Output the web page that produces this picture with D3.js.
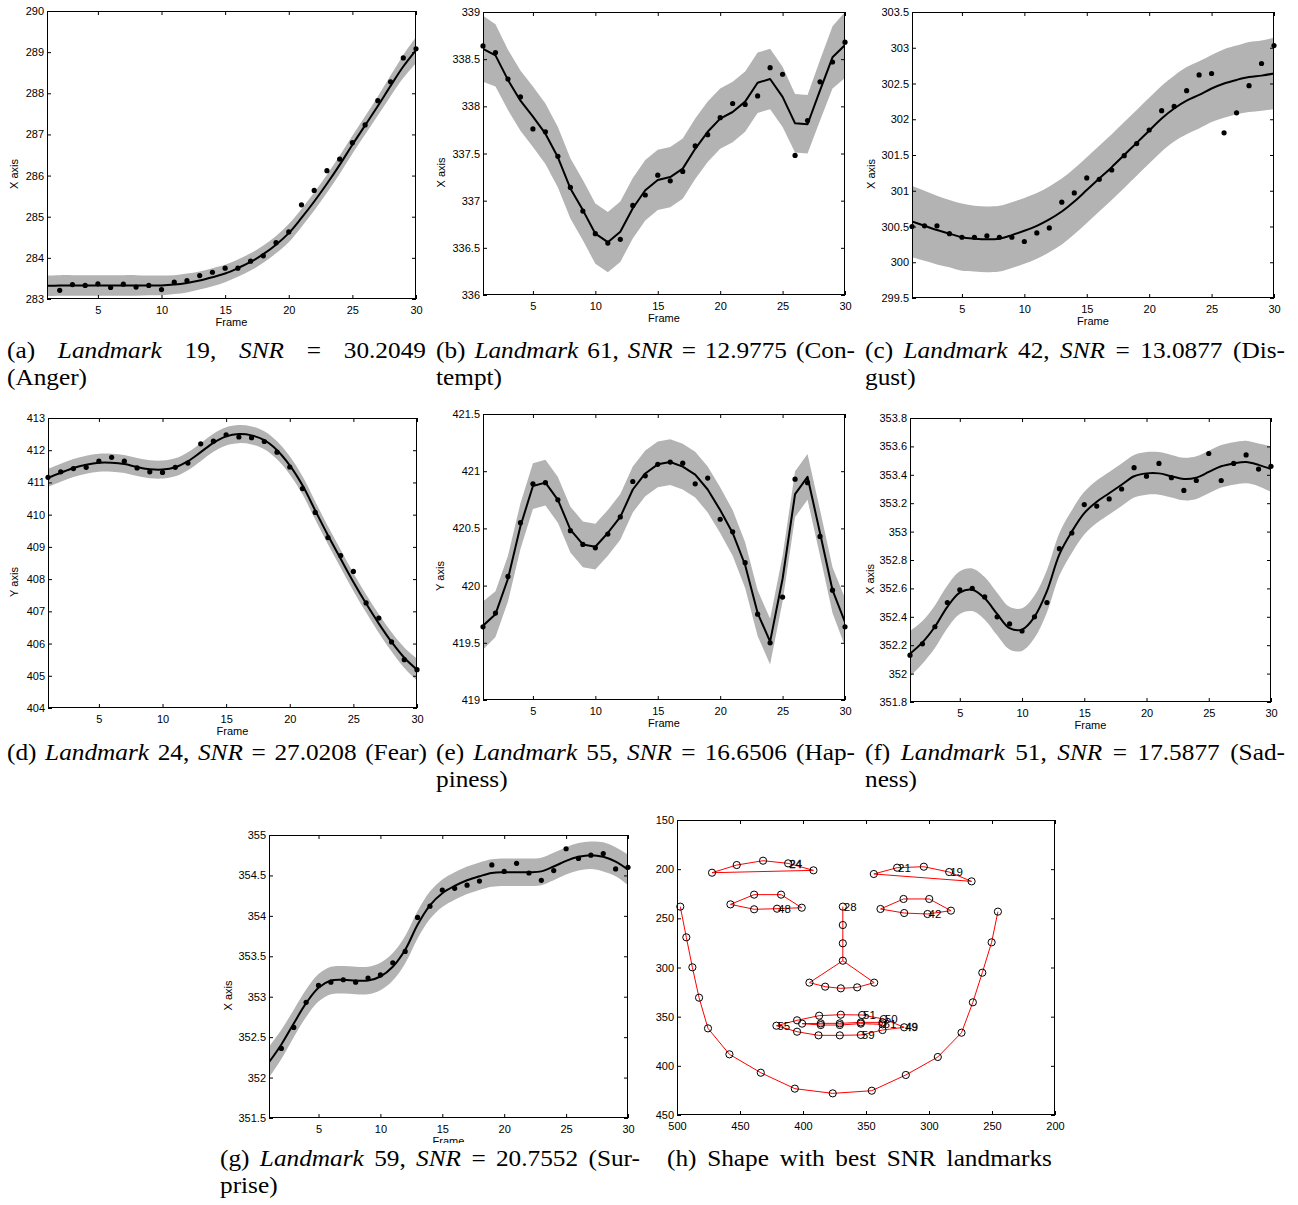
<!DOCTYPE html>
<html><head><meta charset="utf-8">
<script src="https://cdn.jsdelivr.net/npm/d3@7"></script>
<style>body{margin:0;background:#fff}</style>
</head><body>
<svg id="fig" width="1298" height="1205"></svg>
<script>
// ---------------- DATA ----------------
const frames = [1,2,3,4,5,6,7,8,9,10,11,12,13,14,15,16,17,18,19,20,21,22,23,24,25,26,27,28,29,30];
const xTicks = [5,10,15,20,25,30];

// (a) Landmark 19, Anger
const meanA = [283.32,283.33,283.33,283.33,283.33,283.33,283.33,283.33,283.33,283.33,283.35,283.39,283.45,283.53,283.62,283.75,283.90,284.09,284.32,284.60,284.97,285.37,285.80,286.26,286.75,287.22,287.69,288.18,288.65,289.05];
const sdA   = [0.25,0.25,0.25,0.25,0.25,0.25,0.25,0.25,0.24,0.24,0.23,0.23,0.22,0.22,0.21,0.21,0.21,0.21,0.21,0.22,0.22,0.22,0.22,0.22,0.22,0.22,0.23,0.25,0.28,0.32];
const obsA  = [null,283.21,283.35,283.33,283.37,283.28,283.36,283.29,283.33,283.23,283.41,283.45,283.57,283.65,283.75,283.75,283.92,284.05,284.37,284.63,285.29,285.64,286.12,286.40,286.80,287.23,287.82,288.28,288.86,289.08];
const yTicksA = [283,284,285,286,287,288,289,290];

// (b) Landmark 61, Contempt
const meanB = [338.61,338.54,338.28,338.06,337.89,337.71,337.46,337.13,336.90,336.65,336.56,336.67,336.92,337.11,337.22,337.25,337.34,337.55,337.73,337.87,337.94,338.05,338.25,338.29,338.10,337.82,337.81,338.17,338.52,338.65];
const sdB   = [0.35,0.33,0.32,0.32,0.32,0.32,0.32,0.32,0.32,0.32,0.32,0.32,0.32,0.32,0.32,0.32,0.32,0.32,0.32,0.32,0.32,0.32,0.32,0.32,0.32,0.31,0.31,0.32,0.33,0.35];
const obsB  = [338.64,338.57,338.29,338.10,337.76,337.73,337.47,337.14,336.89,336.65,336.55,336.59,336.95,337.06,337.27,337.21,337.31,337.58,337.70,337.88,338.03,338.02,338.11,338.41,338.34,337.48,337.85,338.26,338.47,338.68];
const yTicksB = [336,336.5,337,337.5,338,338.5,339];

// (c) Landmark 42, Disgust
const meanC = [300.57,300.51,300.45,300.40,300.35,300.33,300.32,300.33,300.38,300.44,300.51,300.60,300.71,300.85,301.01,301.17,301.33,301.50,301.67,301.84,302.01,302.15,302.26,302.34,302.43,302.50,302.55,302.59,302.61,302.64];
const sdC   = [0.50,0.49,0.48,0.47,0.47,0.46,0.46,0.46,0.46,0.46,0.46,0.46,0.46,0.46,0.46,0.46,0.46,0.46,0.46,0.46,0.46,0.46,0.47,0.47,0.47,0.48,0.48,0.49,0.49,0.50];
const obsC  = [300.50,300.51,300.51,300.40,300.35,300.35,300.37,300.35,300.35,300.29,300.41,300.48,300.84,300.97,301.18,301.16,301.29,301.49,301.66,301.85,302.12,302.18,302.40,302.62,302.64,301.81,302.09,302.47,302.78,303.03];
const yTicksC = [299.5,300,300.5,301,301.5,302,302.5,303,303.5];

// (d) Landmark 24, Fear
const meanD = [411.14,411.30,411.45,411.55,411.61,411.61,411.57,411.48,411.41,411.40,411.47,411.66,411.94,412.23,412.43,412.50,412.46,412.31,412.00,411.53,410.91,410.13,409.36,408.63,407.91,407.24,406.62,406.05,405.56,405.19];
const sdD   = [0.28,0.28,0.28,0.28,0.28,0.28,0.28,0.28,0.28,0.28,0.28,0.28,0.28,0.28,0.28,0.28,0.28,0.28,0.28,0.28,0.28,0.28,0.28,0.28,0.28,0.28,0.29,0.30,0.32,0.34];
const obsD  = [411.16,411.33,411.43,411.47,411.66,411.78,411.66,411.45,411.33,411.31,411.47,411.60,412.20,412.28,412.48,412.41,412.39,412.27,411.94,411.48,410.81,410.07,409.29,408.73,408.24,407.26,406.79,406.05,405.50,405.19];
const yTicksD = [404,405,406,407,408,409,410,411,412,413];

// (e) Landmark 55, Happiness
const meanE = [419.65,419.75,420.06,420.52,420.87,420.90,420.75,420.49,420.36,420.34,420.46,420.60,420.84,420.98,421.06,421.08,421.04,420.97,420.84,420.66,420.46,420.18,419.76,419.51,420.06,420.80,420.95,420.46,419.96,419.68];
const sdE   = [0.21,0.20,0.20,0.20,0.20,0.20,0.20,0.20,0.20,0.20,0.20,0.20,0.20,0.20,0.20,0.20,0.20,0.20,0.20,0.20,0.20,0.20,0.20,0.20,0.20,0.20,0.20,0.20,0.20,0.21];
const obsE  = [419.64,419.76,420.08,420.55,420.89,420.90,420.75,420.48,420.36,420.33,420.45,420.60,420.91,420.96,421.06,421.08,421.07,420.89,420.94,420.58,420.47,420.20,419.75,419.50,419.90,420.93,420.90,420.43,419.96,419.64];
const yTicksE = [419,419.5,420,420.5,421,421.5];

// (f) Landmark 51, Sadness
const meanF = [352.14,352.22,352.33,352.47,352.57,352.59,352.53,352.42,352.32,352.31,352.40,352.58,352.84,353.00,353.13,353.21,353.27,353.33,353.39,353.41,353.41,353.39,353.37,353.38,353.42,353.46,353.48,353.49,353.47,353.44];
const sdF   = [0.16,0.15,0.15,0.15,0.15,0.15,0.15,0.15,0.15,0.15,0.15,0.15,0.15,0.15,0.15,0.15,0.15,0.15,0.15,0.15,0.15,0.15,0.15,0.15,0.15,0.15,0.15,0.15,0.15,0.16];
const obsF  = [352.13,352.21,352.33,352.50,352.59,352.60,352.54,352.40,352.35,352.30,352.40,352.50,352.88,352.99,353.19,353.18,353.23,353.30,353.45,353.39,353.48,353.38,353.29,353.36,353.55,353.36,353.48,353.54,353.44,353.46];
const yTicksF = [351.8,352,352.2,352.4,352.6,352.8,353,353.2,353.4,353.6,353.8];

// (g) Landmark 59, Surprise
const meanG = [352.19,352.41,352.67,352.92,353.11,353.20,353.21,353.20,353.20,353.25,353.37,353.58,353.89,354.13,354.28,354.37,354.44,354.49,354.53,354.54,354.54,354.54,354.55,354.61,354.68,354.73,354.75,354.73,354.67,354.57];
const sdG   = [0.19,0.18,0.17,0.17,0.17,0.17,0.17,0.17,0.17,0.17,0.17,0.17,0.17,0.17,0.17,0.17,0.17,0.17,0.17,0.17,0.17,0.17,0.17,0.17,0.17,0.17,0.17,0.18,0.18,0.19];
const obsG  = [null,352.36,352.62,352.93,353.14,353.18,353.21,353.18,353.23,353.27,353.42,353.56,353.98,354.12,354.32,354.34,354.38,354.43,354.63,354.55,354.65,354.53,354.44,354.56,354.83,354.71,354.75,354.77,354.58,354.60];
const yTicksG = [351.5,352,352.5,353,353.5,354,354.5,355];

// (h) Face shape (image x, image y)
const faceX = [497.4,492.6,487.8,482.5,475.4,458.4,433.5,406.5,376.4,345.4,318.4,293.0,274.2,265.2,257.7,250.3,245.3,
  472.2,452.6,431.7,411.8,391.7, 343.8,325.3,304.1,284.0,266.2,
  368.4,368.4,368.4,368.4, 394.9,382.4,370.0,357.0,343.5,
  457.6,438.8,417.4,401.0,420.6,438.8, 338.5,320.2,299.8,282.6,301.2,319.7,
  421.1,404.7,387.2,370.0,353.1,335.9,319.7,336.9,354.1,370.8,387.7,404.7,
  400.7,385.9,370.8,354.1,336.9, 336.9,354.1,370.8,385.9];
const faceY = [238.1,269.3,299.8,330.7,361.9,388.3,407.0,423.2,428.0,425.3,409.3,391.0,366.3,335.4,305.3,274.4,243.2,
  203.6,195.8,191.4,194.1,201.2, 204.9,198.5,197.5,202.9,212.4,
  238.1,256.8,275.4,293.1, 315.4,319.5,321.2,320.2,315.4,
  235.8,225.9,225.9,239.2,240.2,240.8, 240.5,230.3,230.3,242.2,245.6,244.6,
  359.2,353.7,349.0,348.0,348.3,352.4,360.8,363.6,368.6,369.0,369.0,365.3,
  357.1,356.8,356.8,355.8,355.8, 357.8,357.1,358.5,358.5];
const faceEdges = [
  [0,1,2,3,4,5,6,7,8,9,10,11,12,13,14,15,16],
  [17,18,19,20,21,17],
  [22,23,24,25,26,22],
  [27,28,29,30],[30,31],[30,35],[31,32,33,34,35],
  [36,37,38,39,40,41,36],
  [42,43,44,45,46,47,42],
  [48,49,50,51,52,53,54,55,56,57,58,59,48],
  [60,61,62,63,64,65,66,67,68,60]
];
const faceLabelIdx  = [20,23,25,27,40,46,48,52,53,65,54,56];
const faceLabelText = ["24","21","19","28","48","42","55","51","50","61","49","59"];
const xTicksH = [500,450,400,350,300,250,200];
const yTicksH = [150,200,250,300,350,400,450];

// Captions
const capTags = ["(a)","(b)","(c)","(d)","(e)","(f)","(g)"];
const capLandmarks = ["19","61","42","24","55","51","59"];
const capSNR = ["30.2049","12.9775","13.0877","27.0208","16.6506","17.5877","20.7552"];
const capTail1 = ["","(Con-","(Dis-","(Fear)","(Hap-","(Sad-","(Sur-"];
const capLine2 = ["(Anger)","tempt)","gust)","","piness)","ness)","prise)"];
const capH = ["(h)","Shape","with","best","SNR","landmarks"];

// ---------------- LAYOUT ----------------
const panels = [
  {key:"a", l:47,  r:416,  t:11,  b:299,  yd:[283,290],     yt:yTicksA, mean:meanA, sd:sdA, obs:obsA, lab:"X axis", ylx:14,  linear:false},
  {key:"b", l:483, r:845,  t:12,  b:295,  yd:[336,339],     yt:yTicksB, mean:meanB, sd:sdB, obs:obsB, lab:"X axis", ylx:441, linear:true},
  {key:"c", l:912, r:1274, t:12,  b:298,  yd:[299.5,303.5], yt:yTicksC, mean:meanC, sd:sdC, obs:obsC, lab:"X axis", ylx:871, linear:false},
  {key:"d", l:48,  r:417,  t:418, b:708,  yd:[404,413],     yt:yTicksD, mean:meanD, sd:sdD, obs:obsD, lab:"Y axis", ylx:14,  linear:false},
  {key:"e", l:483, r:845,  t:414, b:700,  yd:[419,421.5],   yt:yTicksE, mean:meanE, sd:sdE, obs:obsE, lab:"Y axis", ylx:440, linear:true},
  {key:"f", l:910, r:1271, t:418, b:702,  yd:[351.8,353.8], yt:yTicksF, mean:meanF, sd:sdF, obs:obsF, lab:"X axis", ylx:870, linear:false},
  {key:"g", l:269, r:628,  t:835, b:1118, yd:[351.5,355],   yt:yTicksG, mean:meanG, sd:sdG, obs:obsG, lab:"X axis", ylx:228, linear:false, clipLabel:1143}
];
const capPos = [
  {x0:7,   x1:426,  y:358},
  {x0:436, x1:855,  y:358},
  {x0:865, x1:1285, y:358},
  {x0:7,   x1:427,  y:760},
  {x0:436, x1:855,  y:760},
  {x0:865, x1:1285, y:760},
  {x0:220, x1:640,  y:1166}
];
const LINE_GAP = 27;
const CAP_SIZE = 23, CAP_SX = 1.1;
const SANS = "'Liberation Sans', Arial, Helvetica, sans-serif";
const SERIF = "'Liberation Serif', 'Times New Roman', serif";

const svg = d3.select("#fig");
svg.append("rect").attr("width",1298).attr("height",1205).attr("fill","#fff");

function styleAxis(g){
  g.select(".domain").remove();
  g.attr("font-family", SANS).attr("font-size", 11);
  g.selectAll("line").attr("stroke","#000").attr("stroke-width",1);
  g.selectAll("text").attr("fill","#000");
}
function drawAxes(x, y, p, xt, yt, xpad, ypad){
  const fmt = d => String(d);
  styleAxis(svg.append("g").attr("transform",`translate(0,${p.b})`)
    .call(d3.axisBottom(x).tickValues(xt).tickSizeInner(-4).tickSizeOuter(0).tickPadding(xpad).tickFormat(fmt)));
  styleAxis(svg.append("g").attr("transform",`translate(0,${p.t})`)
    .call(d3.axisTop(x).tickValues(xt).tickSizeInner(-4).tickSizeOuter(0).tickFormat("")));
  styleAxis(svg.append("g").attr("transform",`translate(${p.l},0)`)
    .call(d3.axisLeft(y).tickValues(yt).tickSizeInner(-4).tickSizeOuter(0).tickPadding(ypad).tickFormat(fmt)));
  styleAxis(svg.append("g").attr("transform",`translate(${p.r},0)`)
    .call(d3.axisRight(y).tickValues(yt).tickSizeInner(-4).tickSizeOuter(0).tickFormat("")));
  svg.append("rect").attr("x",p.l+0.5).attr("y",p.t+0.5).attr("width",p.r-p.l-1).attr("height",p.b-p.t-1)
    .attr("fill","none").attr("stroke","#000").attr("stroke-width",1);
}

panels.forEach(p => {
  const x = d3.scaleLinear().domain([1,30]).range([p.l, p.r]);
  const y = d3.scaleLinear().domain(p.yd).range([p.b, p.t]);
  const cid = "clip_" + p.key;
  svg.append("clipPath").attr("id", cid).append("rect")
    .attr("x",p.l).attr("y",p.t).attr("width",p.r-p.l).attr("height",p.b-p.t);
  const g = svg.append("g").attr("clip-path", `url(#${cid})`);
  const curve = p.linear ? d3.curveLinear : d3.curveCatmullRom.alpha(0.5);
  const idx = d3.range(frames.length);
  g.append("path").datum(idx)
    .attr("d", d3.area().x(i => x(frames[i])).y0(i => y(p.mean[i]-p.sd[i])).y1(i => y(p.mean[i]+p.sd[i])).curve(curve))
    .attr("fill","#b3b3b3");
  g.append("path").datum(idx)
    .attr("d", d3.line().x(i => x(frames[i])).y(i => y(p.mean[i])).curve(curve))
    .attr("fill","none").attr("stroke","#000").attr("stroke-width",2).attr("stroke-linejoin","round");
  svg.append("g").selectAll("circle").data(idx.filter(i => p.obs[i] !== null)).join("circle")
    .attr("cx", i => x(frames[i])).attr("cy", i => y(p.obs[i])).attr("r", 2.6).attr("fill","#000");
  drawAxes(x, y, p, xTicks, p.yt, 7, 3);
  const fl = svg.append("text").attr("x",(p.l+p.r)/2).attr("y",p.b+27).attr("text-anchor","middle")
    .attr("font-family",SANS).attr("font-size",11).text("Frame");
  if (p.clipLabel) {
    svg.append("clipPath").attr("id","cl_"+p.key).append("rect").attr("x",0).attr("y",0).attr("width",1298).attr("height",p.clipLabel);
    fl.attr("clip-path",`url(#cl_${p.key})`);
  }
  svg.append("text").attr("transform",`translate(${p.ylx},${(p.t+p.b)/2+19}) rotate(-90)`)
    .attr("text-anchor","middle").attr("dy","0.35em")
    .attr("font-family",SANS).attr("font-size",11).text(p.lab);
});

// ---------------- FACE PANEL ----------------
(function(){
  const p = {l:677, r:1055, t:820, b:1115};
  const x = d3.scaleLinear().domain([500,200]).range([p.l,p.r]);
  const y = d3.scaleLinear().domain([150,450]).range([p.t,p.b]);
  const line = d3.line().x(i => x(faceX[i])).y(i => y(faceY[i]));
  svg.append("g").selectAll("path").data(faceEdges).join("path")
    .attr("d", line).attr("fill","none").attr("stroke","#ff0000").attr("stroke-width",1);
  svg.append("g").selectAll("circle").data(d3.range(faceX.length)).join("circle")
    .attr("cx", i => x(faceX[i])).attr("cy", i => y(faceY[i])).attr("r",3.6)
    .attr("fill","none").attr("stroke","#000").attr("stroke-width",1);
  svg.append("g").selectAll("text").data(d3.range(faceLabelIdx.length)).join("text")
    .attr("x", k => x(faceX[faceLabelIdx[k]]) + 1).attr("y", k => y(faceY[faceLabelIdx[k]]))
    .attr("dy","0.36em").attr("font-family",SANS).attr("font-size",11.5).attr("fill","#000")
    .attr("stroke", k => (faceLabelText[k]==="24"||faceLabelText[k]==="49") ? "#000" : "none")
    .attr("stroke-width",0.4)
    .text(k => faceLabelText[k]);
  drawAxes(x, y, p, xTicksH, yTicksH, 7, 3);
})();

// ---------------- CAPTIONS ----------------
function setLine(tokens, x0, x1, yb, justify){
  const g = svg.append("g").attr("font-family",SERIF).attr("font-size",CAP_SIZE).attr("fill","#000");
  const els = tokens.map(t => g.append("text").attr("font-style", t.it ? "italic" : "normal").text(t.s));
  const w = els.map(e => e.node().getComputedTextLength() * CAP_SX);
  const total = d3.sum(w);
  const gap = (justify && tokens.length > 1) ? (x1 - x0 - total)/(tokens.length-1) : 6;
  let cx = x0;
  els.forEach((e,i) => { e.attr("transform", `translate(${cx},${yb}) scale(${CAP_SX},1)`); cx += w[i] + gap; });
}
capTags.forEach((tag,i) => {
  const c = capPos[i];
  const toks = [{s:tag},{s:"Landmark",it:true},{s:capLandmarks[i]+","},{s:"SNR",it:true},{s:"="},{s:capSNR[i]}];
  if (capTail1[i]) toks.push({s:capTail1[i]});
  setLine(toks, c.x0, c.x1, c.y, true);
  if (capLine2[i]) setLine([{s:capLine2[i]}], c.x0, c.x1, c.y + LINE_GAP, false);
});
setLine(capH.map(s => ({s})), 667, 1052, 1166, true);
</script>
</body></html>
